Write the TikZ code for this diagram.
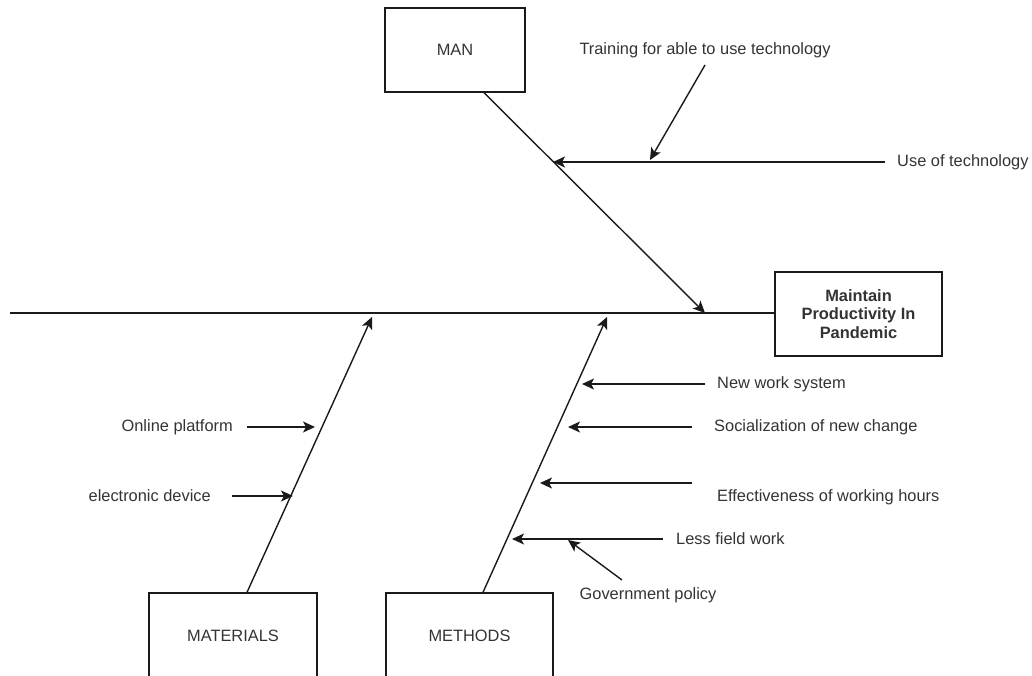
\documentclass[tikz,border=0pt]{standalone}
\usepackage{fontspec}
\setmainfont{Liberation Sans}
\usetikzlibrary{arrows.meta}
\definecolor{txtgray}{HTML}{333333}
\definecolor{linegray}{HTML}{1A1A1A}
\tikzset{
  box/.style={draw=linegray,line width=1.4pt,minimum width=140pt,minimum height=84pt,
    text=txtgray,font=\fontsize{16.4}{18.7}\selectfont},
  lbl/.style={text=txtgray,font=\fontsize{16.4}{18.7}\selectfont,inner sep=0pt},
  bone/.style={draw=linegray,line width=1.4pt},
  arr/.style={draw=linegray,line width=1.4pt,-{Stealth[length=12pt,width=11pt,inset=3pt]}}
}
\begin{document}
\begin{tikzpicture}[x=1pt,y=-1pt]
\useasboundingbox (0,0) rectangle (1032,676);
\node[box] (man) at (455,50) {MAN};
\node[box,minimum width=167pt,align=center,font=\fontsize{16.4}{18.7}\selectfont\bfseries] (eff) at (858.5,314) {Maintain\\Productivity In\\Pandemic};
\node[box,minimum width=168pt,minimum height=86pt] (mat) at (233,636) {MATERIALS};
\node[box,minimum width=167pt,minimum height=86pt] (mth) at (469.5,636) {METHODS};

\coordinate (tail) at (10,313);
\coordinate (jman) at (705,313);
\coordinate (jmat) at (372,317);
\coordinate (jmth) at (607,317);
\draw[bone] (tail) -- (eff.west |- tail);
\draw[arr] ([xshift=29pt]man.south) -- (jman);
\draw[arr] ([xshift=14pt]mat.north) -- (jmat);
\draw[arr] ([xshift=13.5pt]mth.north) -- (jmth);

%man
\node[lbl,anchor=west,inner xsep=12pt] (tech) at (885,162) {Use of technology};
\node[lbl] (train) at (705,50) {Training for able to use technology};
\coordinate (ttrain) at (705,65);
\coordinate (t1) at (553,162);
\coordinate (t2) at (650,160);
\draw[arr] (tech.west) -- (t1);
\draw[arr] (ttrain) -- (t2);

%materials
\node[lbl,anchor=east,inner xsep=14pt] (online) at (247,427) {Online platform};
\node[lbl,anchor=east,inner xsep=21pt] (device) at (232,496) {electronic device};
\coordinate (t3) at (315,427);
\coordinate (t4) at (293,496);
\draw[arr] (online.east) -- (t3);
\draw[arr] (device.east) -- (t4);

%methods
\node[lbl,anchor=west,inner xsep=12pt] (nws) at (705,384) {New work system};
\node[lbl,anchor=west,inner xsep=22pt] (soc) at (692,427) {Socialization of new change};
\node[lbl,anchor=west] (effw) at (717,497) {Effectiveness of working hours};
\node[lbl,anchor=west,inner xsep=13pt] (less) at (663,539) {Less field work};
\node[lbl] (gov) at (648,595) {Government policy};
\coordinate (seffw) at (692,483);
\coordinate (sgov) at (622,580);
\coordinate (t5) at (582,384);
\coordinate (t6) at (568,427);
\coordinate (t7) at (540,483);
\coordinate (t8) at (512,539);
\coordinate (t9) at (568,540);
\draw[arr] (nws.west) -- (t5);
\draw[arr] (soc.west) -- (t6);
\draw[arr] (seffw) -- (t7);
\draw[arr] (less.west) -- (t8);
\draw[arr] (sgov) -- (t9);
\end{tikzpicture}
\end{document}
